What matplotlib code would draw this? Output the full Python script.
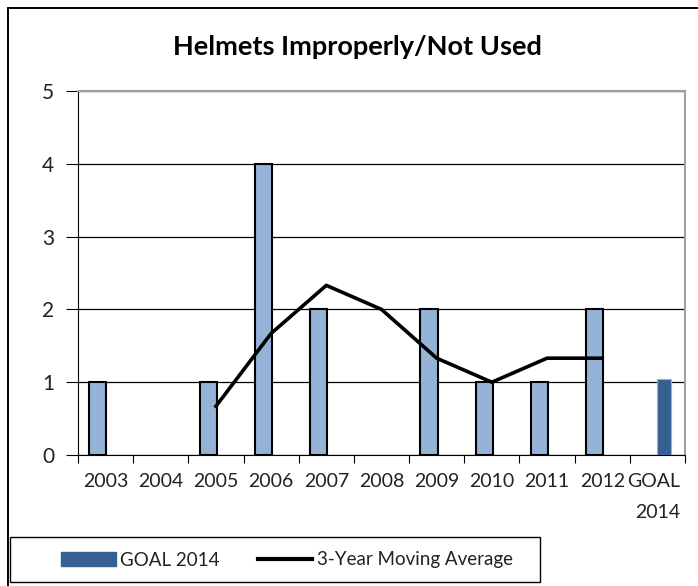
import matplotlib
matplotlib.use("Agg")
import matplotlib.pyplot as plt
import numpy as np
from matplotlib.patches import Rectangle
from matplotlib.lines import Line2D
from matplotlib.transforms import ScaledTranslation

categories = ["2003", "2004", "2005", "2006", "2007", "2008", "2009", "2010", "2011", "2012", "GOAL\n2014"]
counts = [1, 0, 1, 4, 2, 0, 2, 1, 1, 2, None]
goal = [None] * 10 + [1.05]
moving_avg = [None, None, 0.67, 1.67, 2.33, 2.0, 1.33, 1.0, 1.33, 1.33, None]

plt.rcParams['font.family'] = ['Lato', 'DejaVu Sans']
TXT = "#222222"

fig = plt.figure(figsize=(6.98, 5.86), dpi=100)
ax = fig.add_axes([78/698, 1-455/586, (685-78)/698, (455-91)/586])

x = np.arange(len(categories))
cx = [i for i, v in enumerate(counts) if v]
cv = [v for v in counts if v]
ax.bar(np.array(cx) - 0.14, cv, width=0.31, color="#95B3D7", edgecolor="black", linewidth=1.5, zorder=3)
gx = [i for i, v in enumerate(goal) if v is not None]
gv = [v for v in goal if v is not None]
ax.bar(np.array(gx) + 0.12, gv, width=0.27, color="#376092", edgecolor="#95B3D7", linewidth=0.8, zorder=3)
mx = [i for i, v in enumerate(moving_avg) if v is not None]
mv = [v for v in moving_avg if v is not None]
ax.plot(mx, mv, color="black", linewidth=2.6, zorder=4)

ax.set_xlim(-0.5, len(categories) - 0.5)
ax.set_ylim(0, 5)
ax.set_yticks([0, 1, 2, 3, 4, 5])
ax.yaxis.grid(True, color="black", linewidth=0.9, zorder=0)
ax.set_axisbelow(True)
ax.set_xticks(np.arange(len(categories) + 1) - 0.5, minor=False)
ax.set_xticklabels([])
ax.set_xticks(x, minor=True)
ax.set_xticklabels(categories, minor=True, fontsize=14, linespacing=2.0, color=TXT)
ax.tick_params(axis='x', which='minor', length=0, pad=13)
ax.tick_params(axis='x', which='major', length=6, direction='out', color='black')
ax.tick_params(axis='y', length=9, direction='out', labelsize=15, pad=8, labelcolor=TXT)
for lab in ax.get_xticklabels(minor=True):
    if "\n" in lab.get_text():
        lab.set_multialignment("right")
        lab.set_ha("center")
        lab.set_transform(lab.get_transform() + ScaledTranslation(-4/100, 0, fig.dpi_scale_trans))
ax.spines['top'].set_color('#A0A0A0')
ax.spines['right'].set_color('#A0A0A0')
ax.spines['top'].set_linewidth(1.5)
ax.spines['right'].set_linewidth(1.5)
ax.spines['left'].set_color('black')
ax.spines['bottom'].set_color('black')

fig.text(357/698, 1-47/586, "Helmets Improperly/Not Used", ha="center", va="center",
         fontsize=19.5, fontweight="bold", color="black")

# outer border (extends beyond right and bottom edges)
fig.patches.append(Rectangle((8/698, -0.05), 1.0, 1-8/586+0.05,
                             transform=fig.transFigure, fill=False, edgecolor="black", linewidth=1.4))

# legend box
fig.patches.append(Rectangle((10/698, 1-582/586), (540-10)/698, (582-537)/586,
                             transform=fig.transFigure, fill=False, edgecolor="black", linewidth=1.0))
handles = [Rectangle((0, 0), 1, 1, color="#376092"),
           Line2D([0], [0], color="black", linewidth=3)]
leg = fig.legend(handles, ["GOAL 2014", "3-Year Moving Average"], loc="center",
                 bbox_to_anchor=(287/698, 1-560/586), ncol=2, frameon=False,
                 fontsize=13.5, handlelength=2.9, columnspacing=2.0,
                 handletextpad=0.25, labelcolor=TXT)

fig.savefig("out.png", dpi=100)
